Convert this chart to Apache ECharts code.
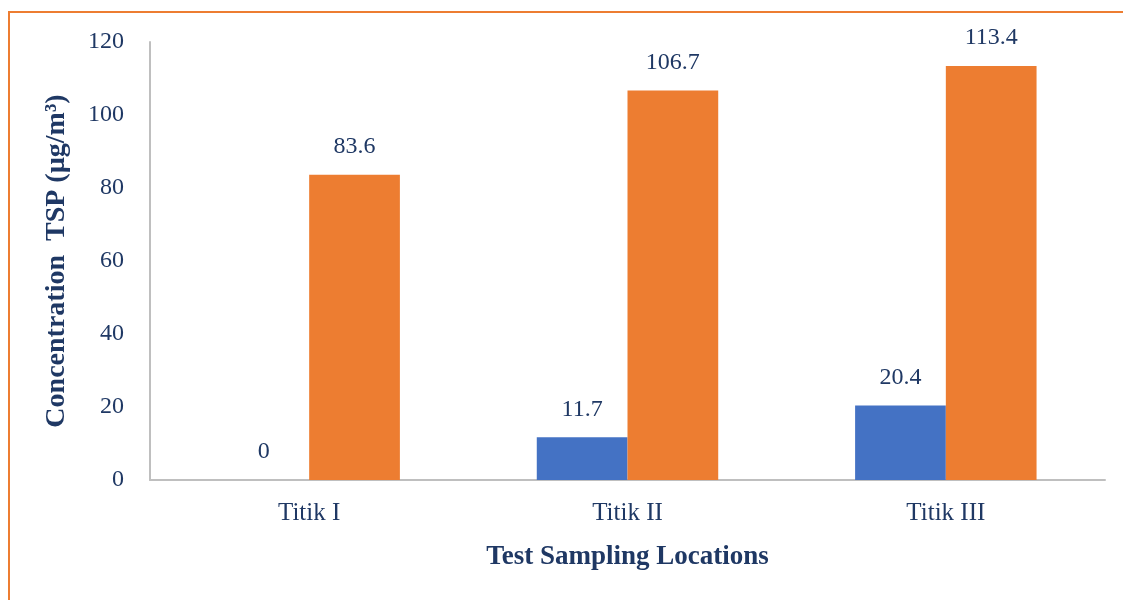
<!DOCTYPE html>
<html>
<head>
<meta charset="utf-8">
<script src="https://cdn.jsdelivr.net/npm/echarts@6/dist/echarts.min.js"></script>
<style>
  html, body { margin: 0; padding: 0; background: #fff; }
  #chart { width: 1123px; height: 600px; }
</style>
</head>
<body>
<div id="chart"></div>
<script>
const categories = ['Titik I', 'Titik II', 'Titik III']
const blueValues = [0, 11.7, 20.4]
const orangeValues = [83.6, 106.7, 113.4]

const textColor = '#1f3864'
const font = '"Liberation Serif", "DejaVu Serif", serif'

const chart = echarts.init(document.getElementById('chart'))
const options = {
  animation: false,
  textStyle: { fontFamily: font },
  graphic: [
    {
      type: 'polyline',
      shape: { points: [[9, 600], [9, 12], [1123, 12]] },
      style: { stroke: '#ed7d31', lineWidth: 2, fill: null }
    }
  ],
  grid: {
    left: 150,
    right: 18,
    top: 42,
    bottom: 120
  },
  xAxis: {
    type: 'category',
    data: categories,
    name: 'Test Sampling Locations',
    nameLocation: 'middle',
    nameGap: 64,
    nameTextStyle: {
      color: textColor,
      fontSize: 27,
      fontWeight: 'bold',
      fontFamily: font
    },
    axisLine: { lineStyle: { color: '#bfbfbf', width: 2 } },
    axisTick: { show: false },
    axisLabel: {
      color: textColor,
      fontSize: 25,
      margin: 21,
      fontFamily: font
    }
  },
  yAxis: {
    type: 'value',
    min: 0,
    max: 120,
    interval: 20,
    name: 'Concentration  TSP (µg/m³)',
    nameLocation: 'middle',
    nameGap: 79,
    nameTextStyle: {
      color: textColor,
      fontSize: 28,
      fontWeight: 'bold',
      fontFamily: font
    },
    axisLine: { show: true, lineStyle: { color: '#bfbfbf', width: 2 } },
    axisTick: { show: false },
    splitLine: { show: false },
    axisLabel: {
      color: textColor,
      fontSize: 24,
      margin: 26,
      fontFamily: font
    }
  },
  series: [
    {
      type: 'bar',
      data: blueValues,
      barGap: '0%',
      barCategoryGap: '43%',
      itemStyle: { color: '#4472c4' },
      label: {
        show: true,
        position: 'top',
        distance: 16,
        color: textColor,
        fontSize: 24,
        fontFamily: font
      }
    },
    {
      type: 'bar',
      data: orangeValues,
      barGap: '0%',
      barCategoryGap: '43%',
      itemStyle: { color: '#ed7d31' },
      label: {
        show: true,
        position: 'top',
        distance: 16,
        color: textColor,
        fontSize: 24,
        fontFamily: font
      }
    }
  ]
}
chart.setOption(options)
</script>
</body>
</html>
